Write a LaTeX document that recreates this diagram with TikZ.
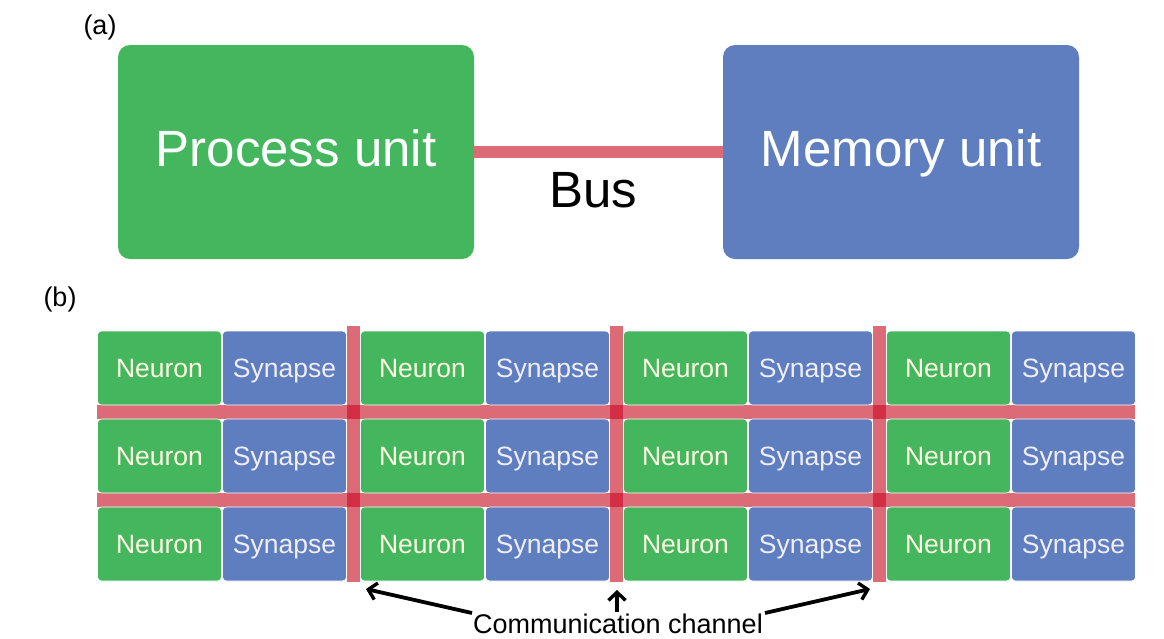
\documentclass[tikz,border=0pt]{standalone}
\usepackage{fontspec}
\setmainfont{Liberation Sans}
\usetikzlibrary{arrows.meta}
\definecolor{cgreen}{HTML}{44B65E}
\definecolor{cblue}{HTML}{5E7EBF}
\definecolor{cchan}{HTML}{DC6A77}
\definecolor{ccross}{HTML}{D42E45}
\definecolor{ntext}{HTML}{FFFBE2}
\definecolor{stext}{HTML}{F0EEFA}
\tikzset{
  bigbox/.style={rounded corners=12pt, minimum width=356pt, minimum height=214pt, inner sep=0pt, text=white, text height=36.5pt, text depth=7pt, font=\fontsize{51}{55}\selectfont},
  cell/.style={rounded corners=4pt, minimum width=124pt, minimum height=74pt, inner sep=0pt, draw=white, line width=0.6pt, text height=19pt, text depth=0pt, font=\fontsize{26.5}{30}\selectfont},
  neuron/.style={cell, fill=cgreen, text=ntext},
  synapse/.style={cell, fill=cblue, text=stext},
  chan/.style={fill=cchan},
  cross/.style={fill=ccross},
  lbl/.style={font=\fontsize{27}{30}\selectfont, inner sep=0pt},
  carrow/.style={line width=3.8pt, -{Straight Barb[length=8pt,width=17pt,line width=3.4pt]}}
}
\begin{document}
\begin{tikzpicture}[x=1pt,y=-1pt]
\useasboundingbox (0,0) rectangle (1164,638);
% (a)
\node[lbl] (la) at (100,28) {(a)};
\node[bigbox, fill=cgreen] (pu) at (296,152) {Process unit};
\node[bigbox, fill=cblue] (mu) at (901,152) {Memory unit};
\draw[cchan, line width=12pt] (pu.east) -- (mu.west);
\node[font=\fontsize{51}{55}\selectfont, inner sep=0pt] (bus) at (593,190) {Bus};
% (b)
\node[lbl] (lb) at (60,300) {(b)};
% channels
\foreach \y in {405,493} {
  \fill[chan] (97,\y) rectangle (1135,\y+14);
}
\foreach \x in {347,610,873} {
  \fill[chan] (\x,326) rectangle (\x+13,582);
  \foreach \y in {405,493} {
    \fill[cross] (\x,\y) rectangle (\x+13,\y+14);
  }
}
% cells
\foreach \gx [count=\c] in {97,360,623,886} {
  \foreach \ry [count=\r] in {331,419,507} {
    \node[neuron] (n-\r-\c) at (\gx+62.5,\ry+37) {Neuron};
    \node[synapse] (s-\r-\c) at (\gx+187.5,\ry+37) {Synapse};
  }
}
% communication channel
\node[lbl] (cc) at (618,624) {Communication channel};
\coordinate (t1) at (472,613);
\coordinate (h1) at (366,589);
\coordinate (t2) at (617,612);
\coordinate (h2) at (617,590);
\coordinate (t3) at (765,613);
\coordinate (h3) at (870,589);
\draw[carrow] (t1) -- (h1);
\draw[carrow] (t2) -- (h2);
\draw[carrow] (t3) -- (h3);
\end{tikzpicture}
\end{document}
